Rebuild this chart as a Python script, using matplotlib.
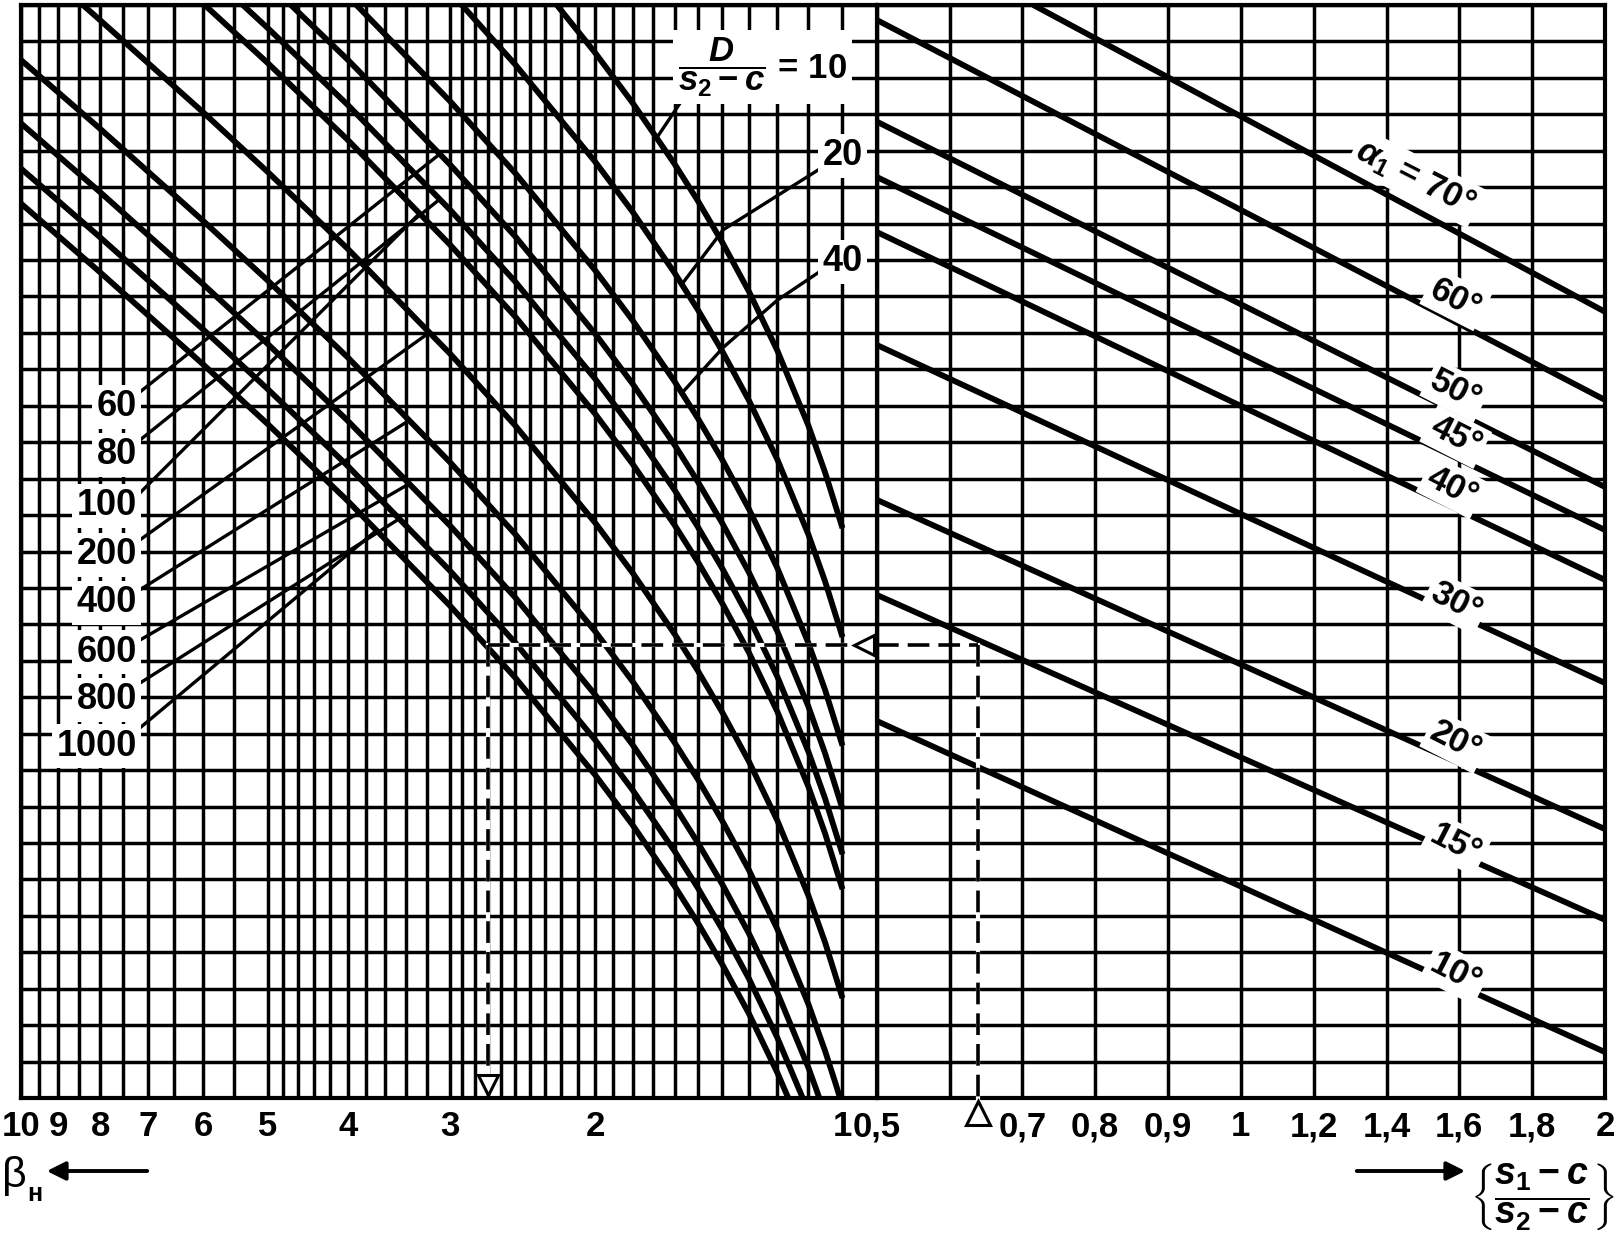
import numpy as np
import matplotlib
matplotlib.use("Agg")
import matplotlib.pyplot as plt

FONT = ['Liberation Sans Narrow', 'Liberation Sans', 'DejaVu Sans']
plt.rcParams['font.family'] = FONT
plt.rcParams['mathtext.fontset'] = 'custom'
plt.rcParams['mathtext.rm'] = 'Liberation Sans:bold'
plt.rcParams['mathtext.it'] = 'Liberation Sans:bold:italic'
plt.rcParams['mathtext.bf'] = 'Liberation Sans:bold'
plt.rcParams['mathtext.sf'] = 'Liberation Sans:bold'

# ---------------- data ----------------
beta_ticks = [10, 9, 8, 7, 6, 5, 4, 3, 2, 1]
beta_tick_labels = ["10", "9", "8", "7", "6", "5", "4", "3", "2", "1"]
beta_grid = [10, 9.5, 9, 8.5, 8, 7.5, 7, 6.5, 6, 5.5, 5, 4.8, 4.6, 4.4, 4.2, 4,
             3.8, 3.6, 3.4, 3.2, 3,
             2.9, 2.8, 2.7, 2.6, 2.5, 2.4, 2.3, 2.2, 2.1, 2,
             1.9, 1.8, 1.7, 1.6, 1.5, 1.4, 1.3, 1.2, 1.1, 1]
ratio_ticks = [0.5, 0.7, 0.8, 0.9, 1, 1.2, 1.4, 1.6, 1.8, 2]
ratio_tick_labels = ["0,5", "0,7", "0,8", "0,9", "1", "1,2", "1,4", "1,6", "1,8", "2"]
ratio_grid = [0.5, 0.6, 0.7, 0.8, 0.9, 1.0, 1.2, 1.4, 1.6, 1.8, 2.0]
y_rows = list(range(0, 31))

# D/(s2-c) curves (left field): beta_n vs. auxiliary ordinate (grid rows)
beta_D10 = [2.226, 2.0, 1.8, 1.6, 1.5, 1.4, 1.3, 1.2, 1.1, 1.05, 1.0]
y_D10 = [30.0, 28.69, 27.31, 25.63, 24.63, 23.48, 22.14, 20.51, 18.45, 17.17, 15.64]
beta_D20 = [2.905, 2.5, 2.0, 1.8, 1.6, 1.5, 1.4, 1.3, 1.2, 1.1, 1.05, 1.0]
y_D20 = [30.0, 28.36, 25.70, 24.32, 22.64, 21.64, 20.49, 19.15, 17.52, 15.46, 14.18, 12.65]
beta_D40 = [3.903, 3.0, 2.5, 2.0, 1.8, 1.6, 1.5, 1.4, 1.3, 1.2, 1.1, 1.05, 1.0]
y_D40 = [30.0, 27.35, 25.38, 22.72, 21.34, 19.66, 18.66, 17.51, 16.17, 14.54, 12.48, 11.20, 9.67]
beta_D60 = [4.690, 4.0, 3.0, 2.5, 2.0, 1.8, 1.6, 1.5, 1.4, 1.3, 1.2, 1.1, 1.05, 1.0]
y_D60 = [30.0, 28.50, 25.61, 23.64, 20.98, 19.60, 17.92, 16.92, 15.77, 14.43, 12.80, 10.74,
         9.46, 7.93]
beta_D80 = [5.366, 5.0, 4.0, 3.0, 2.5, 2.0, 1.8, 1.6, 1.5, 1.4, 1.3, 1.2, 1.1, 1.05, 1.0]
y_D80 = [30.0, 29.36, 27.26, 24.37, 22.40, 19.74, 18.36, 16.68, 15.68, 14.53, 13.19, 11.56,
         9.50, 8.22, 6.69]
beta_D100 = [5.970, 5.0, 4.0, 3.0, 2.5, 2.0, 1.8, 1.6, 1.5, 1.4, 1.3, 1.2, 1.1, 1.05, 1.0]
y_D100 = [30.0, 28.40, 26.30, 23.41, 21.44, 18.78, 17.40, 15.72, 14.72, 13.57, 12.23, 10.60,
          8.54, 7.26, 5.73]
beta_D200 = [8.398, 8.0, 6.0, 5.0, 4.0, 3.0, 2.5, 2.0, 1.8, 1.6, 1.5, 1.4, 1.3, 1.2, 1.1,
             1.05, 1.0]
y_D200 = [30.0, 29.58, 27.06, 25.41, 23.31, 20.42, 18.45, 15.79, 14.41, 12.73, 11.73, 10.58,
          9.24, 7.61, 5.55, 4.27, 2.74]
beta_D400 = [10, 8, 6, 5, 4, 3, 2.5, 2, 1.8, 1.6, 1.5, 1.4, 1.3, 1.2, 1.1, 1.05, 1.02, 1.007]
y_D400 = [28.50, 26.60, 24.08, 22.43, 20.33, 17.44, 15.47, 12.81, 11.43, 9.75, 8.75, 7.60,
          6.26, 4.63, 2.57, 1.29, 0.41, 0.0]
beta_D600 = [10, 8, 6, 5, 4, 3, 2.5, 2, 1.8, 1.6, 1.5, 1.4, 1.3, 1.2, 1.1, 1.067]
y_D600 = [26.76, 24.86, 22.34, 20.69, 18.59, 15.70, 13.73, 11.07, 9.69, 8.01, 7.01, 5.86,
          4.52, 2.89, 0.83, 0.0]
beta_D800 = [10, 8, 6, 5, 4, 3, 2.5, 2, 1.8, 1.6, 1.5, 1.4, 1.3, 1.2, 1.118]
y_D800 = [25.52, 23.62, 21.10, 19.45, 17.35, 14.46, 12.49, 9.83, 8.45, 6.77, 5.77, 4.62,
          3.28, 1.65, 0.0]
beta_D1000 = [10, 8, 6, 5, 4, 3, 2.5, 2, 1.8, 1.6, 1.5, 1.4, 1.3, 1.2, 1.164]
y_D1000 = [24.56, 22.66, 20.14, 18.49, 16.39, 13.50, 11.53, 8.87, 7.49, 5.81, 4.81, 3.66,
           2.32, 0.69, 0.0]

# leader lines for the D/(s2-c) labels
D_left_labels = ["60", "80", "100", "200", "400", "600", "800", "1000"]
D_left_label_y = [18.97, 17.65, 16.25, 14.91, 13.59, 12.24, 10.93, 9.66]
D_left_lead_y0 = [19.38, 18.06, 16.61, 15.32, 13.95, 12.57, 11.39, 10.16]
D_left_lead_beta1 = [3.09, 3.09, 3.267, 3.177, 3.36, 3.36, 3.455, 3.685]
D_left_lead_y1 = [25.91, 24.67, 24.29, 21.02, 18.61, 16.87, 15.91, 15.59]
lead10_beta = [1.546, 1.682]
lead10_y = [27.59, 26.36]
lead20_beta = [1.071, 1.397, 1.568]
lead20_y = [25.47, 23.83, 22.34]
lead40_beta = [1.071, 1.20, 1.397, 1.568]
lead40_y = [22.65, 21.90, 20.60, 19.35]

# alpha_1 lines (right field)
alpha_names = ["70", "60", "50", "45", "40", "30", "20", "15", "10"]
alpha_r0 = [0.715, 0.5, 0.5, 0.5, 0.5, 0.5, 0.5, 0.5, 0.5]
alpha_y0 = [30.0, 29.59, 26.80, 25.28, 23.77, 20.67, 16.42, 13.81, 10.35]
alpha_r1 = [2.0, 2.0, 2.0, 2.0, 2.0, 2.0, 2.0, 2.0, 2.0]
alpha_y1 = [21.58, 19.16, 16.77, 15.59, 14.22, 11.39, 7.38, 4.89, 1.26]
alpha_lab_r = [1.48, 1.59, 1.59, 1.59, 1.58, 1.59, 1.59, 1.59, 1.59]
alpha_lab_y = [25.25, 21.93, 19.41, 18.15, 16.77, 13.59, 9.78, 6.97, 3.43]

# worked example (dashed key)
ex_ratio = 0.639
ex_y = 12.42
ex_beta = 2.7

# ---------------- figure ----------------
W, H = 1615, 1243
fig = plt.figure(figsize=(W / 100, H / 100), dpi=100)
LX, GX, RX, TY, BY = 20.6, 876.7, 1605.0, 5.0, 1098.0
bot = (H - BY) / H
hgt = (BY - TY) / H
ax1 = fig.add_axes([LX / W, bot, (GX - LX) / W, hgt])
ax2 = fig.add_axes([GX / W, bot, (RX - GX) / W, hgt])
for ax in (ax1, ax2):
    ax.set_facecolor('none')
    ax.set_ylim(0, 30)
    ax.set_yticks([])
    for s in ax.spines.values():
        s.set_linewidth(3.0)
ax1.spines['right'].set_visible(False)

GRID_LW = 2.5
CURVE_LW = 4.2
LEAD_LW = 2.4

# left: logarithmic, decreasing to the right
ax1.set_xscale('log')
beta_min = 10 ** (1 - (GX - LX) / 821.9)
ax1.set_xlim(10, beta_min)
for b in beta_grid:
    ax1.axvline(b, color='k', lw=GRID_LW, zorder=1)
ax1.xaxis.set_minor_locator(matplotlib.ticker.NullLocator())
ax1.set_xticks(beta_ticks)
ax1.set_xticklabels(beta_tick_labels)

# right: uniform cells of 0.1 below 1 and 0.2 above 1
def fwd(r):
    r = np.asarray(r, dtype=float)
    return np.where(r <= 1.0, (r - 0.5) * 10.0, 5.0 + (r - 1.0) * 5.0)

def inv(u):
    u = np.asarray(u, dtype=float)
    return np.where(u <= 5.0, 0.5 + u / 10.0, 1.0 + (u - 5.0) / 5.0)

ax2.set_xscale('function', functions=(fwd, inv))
ax2.set_xlim(0.5, 2.0)
for r in ratio_grid:
    ax2.axvline(r, color='k', lw=GRID_LW, zorder=1)
ax2.xaxis.set_minor_locator(matplotlib.ticker.NullLocator())
ax2.set_xticks(ratio_ticks)
ax2.set_xticklabels(ratio_tick_labels)

for ax in (ax1, ax2):
    for yv in y_rows:
        ax.axhline(yv, color='k', lw=GRID_LW, zorder=1)
    ax.tick_params(axis='x', length=0, pad=9, labelsize=25)
    for lab in ax.get_xticklabels():
        lab.set_fontweight('bold')

# D/(s2-c) curves
curves = [(beta_D10, y_D10), (beta_D20, y_D20), (beta_D40, y_D40), (beta_D60, y_D60),
          (beta_D80, y_D80), (beta_D100, y_D100), (beta_D200, y_D200), (beta_D400, y_D400),
          (beta_D600, y_D600), (beta_D800, y_D800), (beta_D1000, y_D1000)]
for bx, yy in curves:
    ax1.plot(bx, yy, color='k', lw=CURVE_LW, solid_capstyle='butt',
             solid_joinstyle='round', zorder=3)

# leaders
beta_lab = 10 ** (1 - (137 - LX) / 821.9)
beta_lead0 = 10 ** (1 - (140 - LX) / 821.9)
for i in range(len(D_left_labels)):
    ax1.plot([beta_lead0, D_left_lead_beta1[i]], [D_left_lead_y0[i], D_left_lead_y1[i]],
             color='k', lw=LEAD_LW, zorder=3)
ax1.plot(lead10_beta, lead10_y, color='k', lw=LEAD_LW, zorder=3)
ax1.plot(lead20_beta, lead20_y, color='k', lw=LEAD_LW, zorder=3)
ax1.plot(lead40_beta, lead40_y, color='k', lw=LEAD_LW, zorder=3)

box = dict(boxstyle='square,pad=0.12', fc='white', ec='none')
for i, t in enumerate(D_left_labels):
    ax1.text(beta_lab, D_left_label_y[i], t, ha='right', va='center', fontsize=26,
             fontweight='bold', bbox=box, zorder=10)
ax1.text(1.0, 25.86, "20", ha='center', va='center', fontsize=26, fontweight='bold',
         bbox=box, zorder=10)
ax1.text(1.0, 22.95, "40", ha='center', va='center', fontsize=26, fontweight='bold',
         bbox=box, zorder=10)
ax1.text(1.252, 28.3, r"$\dfrac{D}{s_2-c}$ = 10", ha='center', va='center', fontsize=25,
         fontweight='bold', bbox=dict(boxstyle='square,pad=0.15', fc='white', ec='none'),
         zorder=10)

# alpha lines
for i in range(len(alpha_names)):
    ax2.plot([alpha_r0[i], alpha_r1[i]], [alpha_y0[i], alpha_y1[i]], color='k', lw=CURVE_LW,
             solid_capstyle='butt', zorder=3)
for i, n in enumerate(alpha_names):
    txt = (r"$\alpha_1$ = " + n + "°") if i == 0 else (n + "°")
    ax2.text(alpha_lab_r[i], alpha_lab_y[i], txt, ha='center', va='center', fontsize=25,
             fontweight='bold', rotation=-27, rotation_mode='anchor', bbox=box, zorder=10)

# worked example
ax1.plot([ex_beta, beta_min], [ex_y, ex_y], color='white', lw=3.0, zorder=4)
ax1.plot([ex_beta, beta_min], [ex_y, ex_y], color='k', lw=2.6, dashes=(6, 2.5), zorder=5)
ax1.plot([ex_beta, ex_beta], [ex_y, 0.5], color='white', lw=3.0, zorder=4)
ax1.plot([ex_beta, ex_beta], [ex_y, 0.5], color='k', lw=2.6, dashes=(6, 2.5), zorder=5)
ax2.plot([0.5, ex_ratio], [ex_y, ex_y], color='k', lw=2.6, dashes=(6, 2.5), zorder=5)
ax2.plot([ex_ratio, ex_ratio], [ex_y, -0.2], color='white', lw=3.0, zorder=4, clip_on=False)
ax2.plot([ex_ratio, ex_ratio], [ex_y, -0.2], color='k', lw=2.6, dashes=(6, 2.5), zorder=5,
         clip_on=False)
ax1.plot([ex_beta], [0.36], marker='v', ms=15, mfc='white', mec='k', mew=2.2, zorder=6)
ax1.plot([10 ** (1 - (864 - LX) / 821.9)], [ex_y], marker='<', ms=15, mfc='white', mec='k',
         mew=2.2, zorder=6, clip_on=False)
ax2.plot([ex_ratio], [-0.42], marker='^', ms=17, mfc='white', mec='k', mew=2.2, zorder=6,
         clip_on=False)

# axis captions and arrows
fig.text(2 / W, 1 - 1176 / H, "β", ha='left', va='center', fontsize=31)
fig.text(27 / W, 1 - 1194 / H, "н", ha='left', va='center', fontsize=18, fontweight='bold')
fig.add_artist(matplotlib.patches.FancyArrowPatch((150, H - 1171), (44, H - 1171),
               transform=None, arrowstyle='-|>', mutation_scale=28, lw=2.8, color='k'))
fig.add_artist(matplotlib.patches.FancyArrowPatch((1354, H - 1171), (1468, H - 1171),
               transform=None, arrowstyle='-|>', mutation_scale=28, lw=2.8, color='k'))
fig.text(1542 / W, 1 - 1197 / H, r"$\left\{\dfrac{s_1-c}{s_2-c}\right\}$", ha='center',
         va='center', fontsize=27)

fig.savefig("out.png", dpi=100, facecolor='white')
